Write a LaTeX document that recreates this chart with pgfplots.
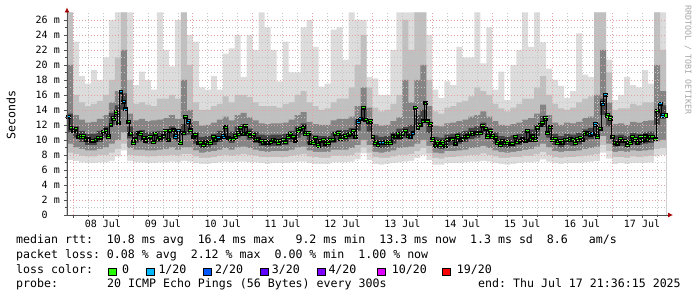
\documentclass[border=0pt]{standalone}
\usepackage{fontspec}
\setmainfont{DejaVu Sans Mono}[WordSpace={1,0,0},PunctuationSpace=WordSpace]
\usepackage{pgfplots}
\usepackage{pgfplotstable}
\pgfplotsset{compat=1.18}
\usetikzlibrary{arrows.meta}
\frenchspacing

\definecolor{smA}{HTML}{DCDCDC}
\definecolor{smB}{HTML}{C0C0C0}
\definecolor{smC}{HTML}{858585}
\definecolor{smD}{HTML}{444444}
\definecolor{lgreen}{HTML}{26FF00}
\definecolor{lblue1}{HTML}{00B8FF}
\definecolor{lblue2}{HTML}{0059FF}
\definecolor{lv3}{HTML}{5E00FF}
\definecolor{lv4}{HTML}{7E00FF}
\definecolor{lm10}{HTML}{DD00FF}
\definecolor{lr19}{HTML}{FF0000}
\definecolor{mgrid}{HTML}{E4A0A0}
\definecolor{ngrid}{HTML}{C4C4C4}
\definecolor{axcol}{HTML}{505050}
\newcommand\lfont{\fontsize{11.6}{14}\selectfont}
\newcommand\tfont{\fontsize{10}{12}\selectfont}

\pgfplotstableread{
t hi1 hi2 hi3 hi4 lo4 lo3 lo2 lo1
0 27 27 20 13.5 11.0 9.5 8.3 7.3
2.4 23.1 16.0 13.3 11.8 10.3 9.0 8.1 7.2
4.8 18.5 15.0 12.7 11.2 9.7 8.8 7.9 7.0
7.2 17.5 14.5 12.3 10.8 9.3 8.6 7.8 6.9
9.6 19.3 14.8 12.4 10.8 9.3 8.6 7.8 6.9
12 18.0 15.2 12.8 11.2 9.7 8.8 8.0 7.0
14.4 21.0 16.0 13.3 11.8 10.3 9.0 8.0 7.0
16.8 26.0 18.0 15.0 13.6 12.0 9.5 8.3 7.2
19.2 27 21 16.5 14.6 12.8 10.0 8.8 7.8
21.6 27 27 22 16.2 14.0 11.0 9.5 8.6
24 27 18 13.5 11.8 10.2 8.9 8.0 7.2
26.4 17.3 14.8 12.6 11.1 9.6 8.7 7.9 7.0
28.8 19.1 15.0 12.8 11.3 9.8 8.7 7.9 7.0
31.2 18.0 14.7 12.5 11.0 9.5 8.6 7.8 6.9
33.6 16.7 14.5 12.6 11.1 9.6 8.6 7.8 6.9
36 27 15.5 12.7 11.2 9.7 8.7 7.9 7.0
38.4 22.0 15.5 12.9 11.4 9.9 8.8 7.9 7.0
40.8 19.8 16.0 13.3 11.8 10.3 9.0 8.0 7.1
43.2 26.0 15.5 12.8 11.3 9.8 8.7 7.9 7.0
45.6 27 27 18 12.1 10.6 9.0 8.1 7.2
48 24.0 20 14.0 12.2 10.7 9.0 8.1 7.1
50.4 23.1 15.0 12.5 11.0 9.5 8.6 7.8 6.9
52.8 17.0 14.0 11.9 10.4 8.9 8.3 7.6 6.8
55.2 16.7 14.0 12.0 10.5 9.0 8.4 7.6 6.8
57.6 18.5 14.5 12.3 10.8 9.3 8.5 7.7 6.9
60 16.7 14.8 12.7 11.2 9.7 8.7 7.9 7.0
62.4 21.5 15.8 13.1 11.6 10.1 8.9 8.0 7.1
64.8 22.2 15.0 12.6 11.1 9.6 8.7 7.9 7.0
67.2 24.0 16.0 13.3 11.8 10.3 9.0 8.0 7.1
69.6 18.4 16.0 13.6 12.1 10.6 9.1 8.1 7.1
72 24.0 15.7 13.0 11.5 10.0 8.9 8.0 7.0
74.4 22.0 15.0 12.6 11.1 9.6 8.7 7.9 7.0
76.8 27 14.5 12.2 10.7 9.2 8.5 7.7 6.9
79.2 25.0 14.5 12.1 10.6 9.1 8.4 7.7 6.8
81.6 22.0 14.5 12.2 10.7 9.2 8.5 7.7 6.9
84 17.8 14.3 12.2 10.7 9.2 8.5 7.7 6.9
86.4 23.1 14.8 12.3 10.8 9.3 8.5 7.7 6.9
88.8 19.0 15.0 12.7 11.2 9.7 8.7 7.9 7.0
91.2 19.0 16.0 13.3 11.8 10.3 9.0 8.0 7.1
93.6 25.0 16.5 13.7 12.2 10.7 9.1 8.1 7.1
96 26.0 15.0 12.4 10.9 9.4 8.6 7.8 6.9
98.4 22.4 14.5 12.1 10.6 9.1 8.4 7.7 6.8
100.8 17.1 14.0 12.0 10.5 9.0 8.4 7.6 6.8
103.2 17.5 14.2 12.0 10.5 9.0 8.4 7.6 6.8
105.6 24.7 15.0 12.6 11.1 9.6 8.7 7.9 7.0
108 25.0 15.5 12.8 11.3 9.8 8.7 7.9 7.0
110.4 20.7 15.5 12.8 11.3 9.8 8.7 7.9 7.0
112.8 27 17.0 13.1 11.6 10.1 8.9 8.0 7.1
115.2 26.0 20.0 14.5 12.7 11.2 9.3 8.3 7.4
117.6 26.0 24.0 17.0 14.1 12.5 10.0 9.0 8.2
120 18.4 17.0 14.3 12.6 11.1 9.3 8.3 7.3
122.4 18.2 14.3 12.1 10.6 9.1 8.4 7.7 6.8
124.8 16.0 13.8 11.9 10.4 8.9 8.3 7.6 6.7
127.2 16.0 14.0 12.0 10.5 9.0 8.4 7.6 6.8
129.6 22.0 14.8 12.5 11.0 9.5 8.6 7.8 6.9
132 27 16.0 13.0 11.5 10.0 8.9 8.0 7.0
134.4 27 26 18 11.7 10.2 9.0 8.0 7.1
136.8 27 22 15.0 12.0 10.5 9.1 8.1 7.2
139.2 27 27 18 13.3 11.8 9.5 8.5 7.6
141.6 27 27 20 14.0 12.4 10.0 8.9 8.0
144 24.0 18 14.5 12.4 10.9 9.2 8.2 7.3
146.4 16.7 13.8 11.9 10.4 8.9 8.3 7.6 6.7
148.8 15.6 13.5 11.8 10.3 8.8 8.2 7.5 6.7
151.2 17.8 14.3 12.2 10.7 9.2 8.5 7.7 6.9
153.6 17.3 14.5 12.3 10.8 9.3 8.5 7.7 6.9
156 22.4 15.0 12.5 11.0 9.5 8.6 7.8 6.9
158.4 21.0 15.2 12.7 11.2 9.7 8.7 7.9 7.0
160.8 21.0 15.8 13.1 11.6 10.1 8.9 8.0 7.1
163.2 27 17.0 13.3 11.8 10.3 9.0 8.0 7.1
165.6 20.2 16.5 13.8 12.3 10.8 9.2 8.2 7.2
168 25.0 16.0 13.1 11.6 10.1 8.9 8.0 7.1
170.4 16.7 14.8 12.5 11.0 9.5 8.6 7.8 6.9
172.8 19.1 14.2 12.0 10.5 9.0 8.4 7.6 6.8
175.2 15.3 13.8 11.9 10.4 8.9 8.3 7.6 6.7
177.6 20.0 14.3 12.1 10.6 9.1 8.4 7.7 6.8
180 22.0 14.8 12.3 10.8 9.3 8.5 7.7 6.9
182.4 27 15.5 12.7 11.2 9.7 8.7 7.9 7.0
184.8 22.4 15.5 12.9 11.4 9.9 8.8 7.9 7.0
187.2 27 17.0 13.5 12.0 10.5 9.1 8.1 7.1
189.6 23.0 18.5 14.7 13.2 11.7 9.5 8.4 7.4
192 19.5 16.0 13.3 11.8 10.3 9.0 8.0 7.1
194.4 18.0 14.8 12.3 10.8 9.3 8.5 7.7 6.9
196.8 17.2 14.2 12.0 10.5 9.0 8.4 7.6 6.8
199.2 15.6 14.0 12.3 10.8 9.3 8.5 7.7 6.9
201.6 16.5 14.3 12.2 10.7 9.2 8.5 7.7 6.9
204 24.2 15.0 12.4 10.9 9.4 8.6 7.8 6.9
206.4 18.7 15.5 12.9 11.4 9.9 8.8 7.9 7.0
208.8 18.4 15.8 13.1 11.6 10.1 8.9 8.0 7.1
211.2 27 27 16 12.2 10.7 9.1 8.1 7.2
213.6 27 27 22 15.5 13.3 10.5 9.3 8.3
216 20.7 19 15.0 13.3 11.8 9.5 8.5 7.5
218.4 15.3 14.0 12.1 10.6 9.1 8.4 7.7 6.8
220.8 16.0 14.2 12.2 10.7 9.2 8.5 7.7 6.9
223.2 18.4 14.2 12.0 10.5 9.0 8.4 7.6 6.8
225.6 17.3 14.8 12.4 10.9 9.4 8.6 7.8 6.9
228 17.0 14.6 12.3 10.8 9.3 8.5 7.7 6.9
230.4 19.3 15.0 12.5 11.0 9.5 8.6 7.8 6.9
232.8 17.5 15.0 12.6 11.1 9.6 8.7 7.9 7.0
235.2 27 27 20 14.0 12.0 9.8 8.8 7.8
237.6 27 22 16.5 14.6 12.8 10.0 8.9 8.0
240 27 22 16.5 14.6 12.8 10.0 8.9 8.0
}\smoke

\pgfplotstableread{
t med
0.5 13.1
1.5 11.6
2.5 11.2
3.5 11.5
4.5 10.4
5.5 10.5
6.5 10.5
7.5 10.0
8.5 10.2
9.5 9.9
10.5 9.9
11.5 10.0
12.5 10.3
13.5 10.3
14.5 11.1
15.5 11.4
16.5 10.5
17.5 12.0
18.5 12.9
19.5 13.7
20.5 12.3
21.5 16.4
22.5 15.1
23.5 14.2
24.5 12.4
25.5 10.8
26.5 9.7
27.5 10.2
28.5 11.0
29.5 10.9
30.5 10.3
31.5 9.9
32.5 10.3
33.5 10.4
34.5 9.8
35.5 10.8
36.5 10.2
37.5 10.3
38.5 10.6
39.5 11.2
40.5 10.0
41.5 11.2
42.5 11.4
43.5 10.5
44.5 11.2
45.5 9.7
46.5 11.0
47.5 13.1
48.5 12.5
49.5 11.4
50.5 10.4
51.5 10.7
52.5 9.6
53.5 9.6
54.5 9.4
55.5 9.8
56.5 9.7
57.5 9.7
58.5 10.4
59.5 10.0
60.5 10.3
61.5 10.3
62.5 10.5
63.5 11.8
64.5 10.3
65.5 10.2
66.5 10.2
67.5 10.5
68.5 10.9
69.5 11.6
70.5 10.8
71.5 11.9
72.5 10.9
73.5 10.6
74.5 10.7
75.5 10.0
76.5 10.2
77.5 9.9
78.5 9.6
79.5 9.9
80.5 9.6
81.5 9.8
82.5 10.0
83.5 9.9
84.5 9.7
85.5 9.9
86.5 10.0
87.5 9.8
88.5 10.5
89.5 10.8
90.5 10.4
91.5 9.9
92.5 11.3
93.5 11.5
94.5 11.8
95.5 10.9
96.5 10.9
97.5 9.6
98.5 9.7
99.5 10.3
100.5 9.3
101.5 9.9
102.5 10.0
103.5 9.5
104.5 9.7
105.5 10.0
106.5 10.0
107.5 10.8
108.5 10.9
109.5 10.2
110.5 10.4
111.5 10.5
112.5 10.7
113.5 10.8
114.5 11.2
115.5 10.4
116.5 12.5
117.5 12.8
118.5 14.3
119.5 12.7
120.5 12.4
121.5 12.5
122.5 10.4
123.5 9.7
124.5 9.4
125.5 9.6
126.5 9.6
127.5 9.7
128.5 9.7
129.5 9.7
130.5 10.6
131.5 10.4
132.5 10.8
133.5 10.4
134.5 10.8
135.5 11.2
136.5 10.6
137.5 10.4
138.5 11.0
139.5 14.3
140.5 11.6
141.5 12.0
142.5 12.6
143.5 15.0
144.5 12.6
145.5 12.1
146.5 10.1
147.5 9.2
148.5 9.7
149.5 9.4
150.5 9.7
151.5 9.2
152.5 10.0
153.5 10.2
154.5 10.2
155.5 9.5
156.5 10.5
157.5 10.0
158.5 10.2
159.5 10.4
160.5 10.6
161.5 10.8
162.5 10.9
163.5 11.0
164.5 11.0
165.5 11.0
166.5 11.9
167.5 11.5
168.5 10.5
169.5 11.2
170.5 10.5
171.5 10.3
172.5 9.7
173.5 9.4
174.5 9.9
175.5 9.7
176.5 9.7
177.5 9.5
178.5 9.5
179.5 10.4
180.5 9.8
181.5 9.9
182.5 10.2
183.5 9.9
184.5 11.2
185.5 10.0
186.5 10.6
187.5 10.1
188.5 11.6
189.5 12.0
190.5 12.3
191.5 12.9
192.5 11.0
193.5 11.8
194.5 10.1
195.5 10.1
196.5 9.7
197.5 9.9
198.5 9.6
199.5 10.0
200.5 10.0
201.5 10.1
202.5 10.0
203.5 9.7
204.5 10.1
205.5 10.3
206.5 10.0
207.5 10.9
208.5 11.0
209.5 10.7
210.5 10.8
211.5 12.1
212.5 10.5
213.5 11.5
214.5 14.9
215.5 16.0
216.5 13.3
217.5 12.9
218.5 10.4
219.5 9.6
220.5 9.5
221.5 10.1
222.5 9.9
223.5 9.9
224.5 9.4
225.5 9.7
226.5 10.4
227.5 10.1
228.5 9.6
229.5 10.4
230.5 9.9
231.5 10.6
232.5 10.0
233.5 10.4
234.5 10.4
235.5 10.2
236.5 13.9
237.5 14.8
238.5 13.3
239.5 13.3
}\median

\begin{document}
\begin{tikzpicture}
\begin{axis}[
  at={(0pt,0pt)}, anchor=south west, scale only axis,
  width=599pt, height=202.5pt,
  xmin=0, xmax=240, ymin=0, ymax=27,
  set layers=axis on top,
  axis lines*=left,
  axis line style={draw=axcol, line width=0.8pt},
  x axis line style={-{Latex[length=5pt,width=5pt,color=red!65!black]}, shorten >=-7pt},
  y axis line style={-{Latex[length=5pt,width=5pt,color=red!65!black]}, shorten >=-5pt},
  tick align=outside,
  major tick length=3pt, minor tick length=2pt,
  tick style={draw=axcol, line width=0.6pt},
  ytick={0,2,...,26},
  minor ytick={1,3,...,25},
  yticklabels={0\phantom{\ m},2\ m,4\ m,6\ m,8\ m,10\ m,12\ m,14\ m,16\ m,18\ m,20\ m,22\ m,24\ m,26\ m},
  ymajorgrids, yminorgrids,
  xtick={14.4,38.4,62.4,86.4,110.4,134.4,158.4,182.4,206.4,230.4},
  xticklabels={08 Jul,09 Jul,10 Jul,11 Jul,12 Jul,13 Jul,14 Jul,15 Jul,16 Jul,17 Jul},
  minor xtick={2.4,8.4,...,236.4},
  xminorgrids,
  extra x ticks={2.4,26.4,50.4,74.4,98.4,122.4,146.4,170.4,194.4,218.4},
  extra x tick labels={},
  extra x tick style={grid=major},
  major grid style={draw=mgrid, dash pattern=on 1pt off 2pt, line width=0.6pt},
  minor grid style={draw=ngrid, dash pattern=on 1pt off 2pt, line width=0.6pt},
  yticklabel style={font=\tfont, anchor=east, inner sep=0pt, xshift=-4pt},
  xticklabel style={font=\tfont, anchor=north, inner sep=0pt, yshift=-2pt},
]
\addplot[draw=none, fill=smA, const plot] table[x=t,y=hi1]{\smoke} \closedcycle;
\addplot[draw=none, fill=smB, const plot] table[x=t,y=hi2]{\smoke} \closedcycle;
\addplot[draw=none, fill=smC, const plot] table[x=t,y=hi3]{\smoke} \closedcycle;
\addplot[draw=none, fill=smD, const plot] table[x=t,y=hi4]{\smoke} \closedcycle;
\addplot[draw=none, fill=smC, const plot] table[x=t,y=lo4]{\smoke} \closedcycle;
\addplot[draw=none, fill=smB, const plot] table[x=t,y=lo3]{\smoke} \closedcycle;
\addplot[draw=none, fill=smA, const plot] table[x=t,y=lo2]{\smoke} \closedcycle;
\addplot[draw=none, fill=white, const plot] table[x=t,y=lo1]{\smoke} \closedcycle;
\addplot[on layer=axis foreground, black, line width=0.4pt, const plot mark mid,
  mark=square*, mark size=1.7pt, mark options={draw=none, fill=lgreen, xscale=1.15}]
  table[x=t,y=med]{\median};
\addplot[on layer=axis foreground, only marks, mark=square*, mark size=1.7pt,
  mark options={draw=none, fill=lblue1, xscale=1.15}] coordinates {
  (0.5,13.1) (8.5,10.2) (21.5,16.4) (22.5,15.1) (23.5,14.2) (43.5,10.5)
  (44.5,11.2) (48.5,12.5) (60.5,10.3) (62.5,10.5) (116.5,12.5) (117.5,12.8)
  (125.5,9.6) (126.5,9.6) (137.5,10.4) (138.5,11.0) (209.5,10.7) (210.5,10.8)
  (211.5,12.1) (214.5,14.9) (215.5,16.0) (237.5,14.8) (238.5,13.3)};
\end{axis}

\node[rotate=90, font=\lfont, inner sep=0pt] at (-56pt,100pt) {Seconds};
\node[rotate=-90, font=\fontsize{8.3}{10}\selectfont, text=black!35, inner sep=0pt] at (621pt,155pt) {RRDTOOL / TOBI OETIKER};

\node[anchor=base west, inner sep=0pt, font=\lfont] at (-51pt,-29pt)
  {median\ rtt:\ \ 10.8\ ms\ avg\ \ 16.4\ ms\ max\ \ \ 9.2\ ms\ min\ \ 13.3\ ms\ now\ \ 1.3\ ms\ sd\ \ 8.6\ \ \ am/s};
\node[anchor=base west, inner sep=0pt, font=\lfont] at (-51pt,-44pt)
  {packet\ loss:\ 0.08\ \%\ avg\ \ 2.12\ \%\ max\ \ 0.00\ \%\ min\ \ 1.00\ \%\ now};
\node[anchor=base west, inner sep=0pt, font=\lfont] at (-51pt,-58.3pt) {loss\ color:};
\foreach \xs/\cl/\xt/\lb in {41/lgreen/55/{0}, 79.7/lblue1/91.3/{1/20}, 136.3/lblue2/148/{2/20}, 193/lv3/204.7/{3/20}, 250/lv4/261.3/{4/20}, 310.7/lm10/324.7/{10/20}, 375.3/lr19/389.7/{19/20}}{
  \filldraw[fill=\cl, draw=black, line width=0.5pt] (\xs pt,-60.5pt) rectangle ++(8pt,7pt);
  \node[anchor=base west, inner sep=0pt, font=\lfont] at (\xt pt,-58.3pt) {\lb};
}
\node[anchor=base west, inner sep=0pt, font=\lfont] at (-51pt,-72.7pt) {probe:};
\node[anchor=base west, inner sep=0pt, font=\lfont] at (40pt,-72.7pt) {20\ ICMP\ Echo\ Pings\ (56\ Bytes)\ every\ 300s};
\node[anchor=base west, inner sep=0pt, font=\lfont] at (411pt,-72.7pt) {end:\ Thu\ Jul\ 17\ 21:36:15\ 2025};
\pgfresetboundingbox
\path[use as bounding box] (-67pt,-82pt) rectangle (630pt,215pt);
\end{tikzpicture}
\end{document}
